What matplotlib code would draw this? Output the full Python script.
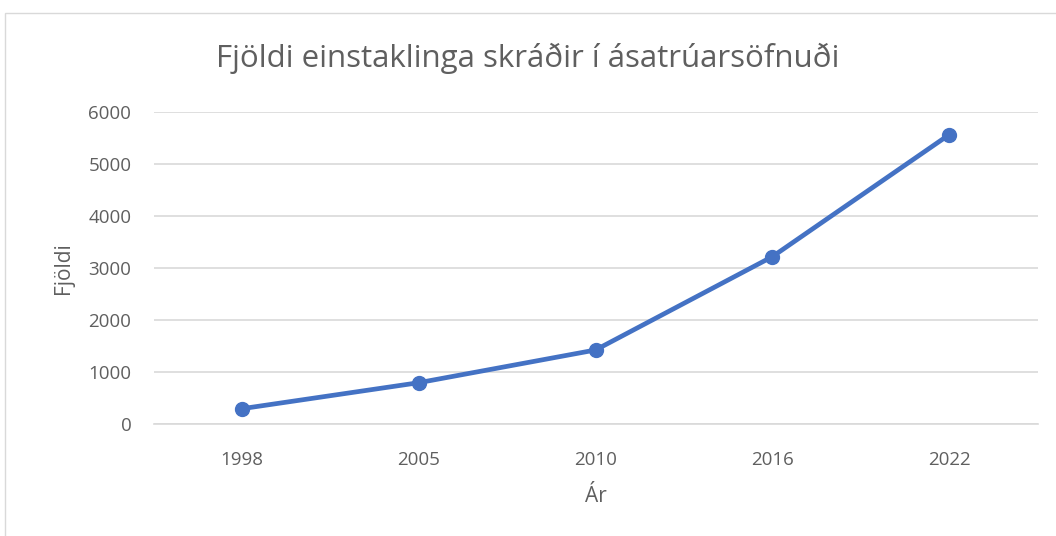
import matplotlib.pyplot as plt
from matplotlib.patches import Rectangle

years = ["1998", "2005", "2010", "2016", "2022"]
fjoldi = [289, 790, 1420, 3218, 5568]
yticks = [0, 1000, 2000, 3000, 4000, 5000, 6000]

plt.rcParams['font.family'] = ['Open Sans', 'DejaVu Sans']
grey = '#5f5f5f'

fig = plt.figure(figsize=(10.56, 5.36), dpi=100)
# chart border
fig.patches.append(Rectangle((5 / 1056, -0.1), 1.2, 1 - 13 / 536 + 0.1,
                             transform=fig.transFigure, fill=False,
                             edgecolor='#d9d9d9', linewidth=1))

ax = fig.add_axes([153.5 / 1056, 112.3 / 536, 884 / 1056, 311.4 / 536])
x = list(range(len(years)))
ax.plot(x, fjoldi, color='#4472C4', linewidth=3.4, marker='o', markersize=10,
        solid_capstyle='round', zorder=3)

ax.set_xlim(-0.5, len(years) - 0.5)
ax.set_ylim(0, 6000)
ax.set_xticks(x)
ax.set_xticklabels(years)
ax.set_yticks(yticks)
ax.grid(axis='y', color='#d9d9d9', linewidth=1.2)
ax.set_axisbelow(True)
for s in ['top', 'right', 'left']:
    ax.spines[s].set_visible(False)
ax.spines['bottom'].set_color('#d9d9d9')
ax.spines['bottom'].set_linewidth(1.2)
ax.tick_params(length=0, labelsize=13.5, colors=grey)
ax.tick_params(axis='x', pad=20)
ax.tick_params(axis='y', pad=16)

ax.set_xlabel('Ár', fontsize=15, color=grey, labelpad=12)
ax.set_ylabel('Fjöldi', fontsize=15, color=grey, labelpad=10)
fig.text(0.5, 1 - 58 / 536, 'Fjöldi einstaklinga skráðir í ásatrúarsöfnuði',
         ha='center', va='center', fontsize=22.5, color=grey)

fig.savefig('out.png', dpi=100)
